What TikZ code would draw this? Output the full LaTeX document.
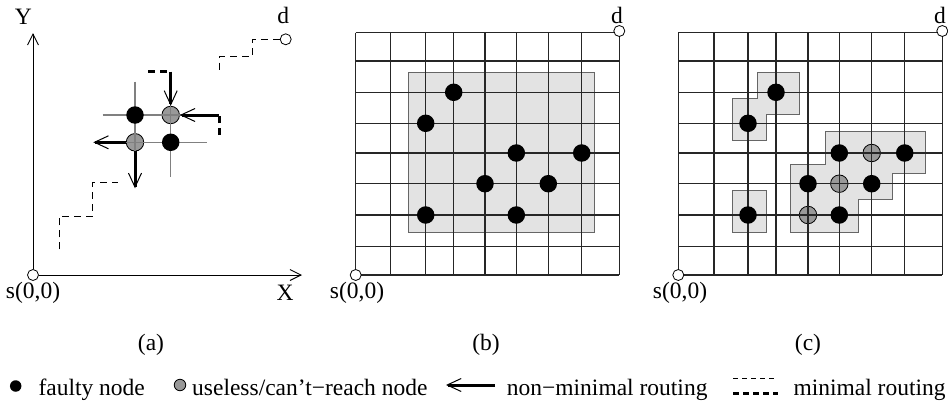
\documentclass[tikz,border=0pt]{standalone}
\usepackage{fontspec}
\setmainfont{Liberation Serif}
\usetikzlibrary{arrows.meta}
\begin{document}
\begin{tikzpicture}[x=1pt,y=-1pt,
  lbl/.style={font=\fontsize{23.5}{27}\selectfont, inner sep=0pt},
  fdot/.style={circle,fill=black,minimum size=17.5pt,inner sep=0pt},
  udot/.style={circle,draw=black,line width=0.8pt,fill=black!40,minimum size=17.5pt,inner sep=0pt},
  term/.style={circle,draw,fill=white,minimum size=11pt,inner sep=0pt,line width=0.8pt},
  gridl/.style={line width=1.2pt, draw=black!85},
  region/.style={fill=black!11, draw=black!60, line width=1pt},
  thinl/.style={line width=1.2pt, draw=black!50},
  axis/.style={line width=0.9pt, -{Straight Barb[length=11pt,width=11pt]}},
  route/.style={line width=3pt, -{Straight Barb[length=14pt,width=13pt,line width=1pt]}},
  mindash/.style={dash pattern=on 7pt off 5pt, line width=0.9pt},
  thickdash/.style={line width=3pt, dash pattern=on 7pt off 5pt},
  ldot/.style={circle,minimum size=11.5pt,inner sep=0pt},
]
\useasboundingbox (0,0) rectangle (948,407);

% ---------------- panel (a)
\node[udot] (ag1) at (170.7,115) {};
\node[udot] (ag2) at (135,142.3) {};
\draw[thinl] (102.7,115) -- (206.7,115);
\draw[thinl] (102.7,142.3) -- (206.7,142.3);
\draw[thinl] (135,81.7) -- (135,176.7);
\draw[thinl] (170.7,81.7) -- (170.7,176.7);
\node[fdot] (af1) at (135,115) {};
\node[fdot] (af2) at (170.7,142.3) {};

\node[term] (as) at (33,275) {};
\node[term] (ad) at (285.7,39.3) {};
\coordinate (ayend) at (33,33);
\coordinate (axend) at (302,275);
\draw[axis] (as) -- (ayend);
\draw[axis] (as) -- (axend);
\node[lbl] (aY) at (23.3,16.7) {Y};
\node[lbl] (aX) at (285,293.3) {X};
\node[lbl] (asl) at (33,293) {s(0,0)};
\node[lbl] (adl) at (283.3,15) {d};

% minimal routing (thin dashed)
\draw[mindash] (ad.west) -- (252.7,39.3) -- (252.7,56) -- (219,56) -- (219,72.7);
\draw[mindash] (59.3,249.3) -- (59.3,216) -- (92.7,216) -- (92.7,182.3) -- (118.3,182.3);

% non-minimal routing
\coordinate (r1) at (148.3,71.7);
\coordinate (r2) at (170.7,71.7);
\draw[thickdash] (r1) -- (r2);
\draw[route] (r2) -- (ag1);
\coordinate (r3) at (219,135);
\coordinate (r4) at (219,115);
\draw[thickdash] (r3) -- (r4);
\draw[route] (r4) -- (ag1);
\coordinate (r5) at (93.3,142.3);
\coordinate (r6) at (135,188.3);
\draw[route] (ag2) -- (r5);
\draw[route] (ag2) -- (r6);

\node[lbl] (la) at (151,345) {(a)};

% ---------------- panel (b)
\draw[region] (408.7,72.3) rectangle (594.3,232);
\foreach \x in {355.7,390.3,425.7,453.7,485,516.3,548.3,581.7,619.3}
  \draw[gridl] (\x,32.7) -- (\x,275);
\foreach \y in {32.7,61,92.3,123.3,153,183.7,215,246.7,275}
  \draw[gridl] (355.7,\y) -- (619.3,\y);
\node[fdot] (bf1) at (453.7,92.3) {};
\node[fdot] (bf2) at (425.7,123.3) {};
\node[fdot] (bf3) at (516.3,153) {};
\node[fdot] (bf4) at (581.7,153) {};
\node[fdot] (bf5) at (485,183.7) {};
\node[fdot] (bf6) at (548.3,183.7) {};
\node[fdot] (bf7) at (425.7,215) {};
\node[fdot] (bf8) at (516.3,215) {};
\node[term] (bs) at (355.7,275) {};
\node[term] (bd) at (619.3,31) {};
\node[lbl] (bsl) at (357,293) {s(0,0)};
\node[lbl] (bdl) at (617,15) {d};
\node[lbl] (lb) at (486,345) {(b)};

% ---------------- panel (c)
\draw[region] (757.3,72.3) -- (799.3,72.3) -- (799.3,114.3) -- (766,114.3) -- (766,140)
  -- (732.3,140) -- (732.3,98.3) -- (757.3,98.3) -- cycle;
\draw[region] (732.3,190.3) rectangle (766,232);
\draw[region] (825.3,131.3) -- (925.3,131.3) -- (925.3,173) -- (892.7,173) -- (892.7,199)
  -- (858.7,199) -- (858.7,232) -- (790.7,232) -- (790.7,164.7) -- (825.3,164.7) -- cycle;
\node[udot] (cg1) at (871.7,153) {};
\node[udot] (cg2) at (839.3,183.7) {};
\node[udot] (cg3) at (808,215) {};
\foreach \x in {678.3,714,748,776,808,839.3,871.7,904.7,942.3}
  \draw[gridl] (\x,32.7) -- (\x,275);
\foreach \y in {32.7,61,92.3,123.3,153,183.7,215,246.7,275}
  \draw[gridl] (678.3,\y) -- (942.3,\y);
\node[fdot] (cf1) at (776,92.3) {};
\node[fdot] (cf2) at (748,123.3) {};
\node[fdot] (cf3) at (839.3,153) {};
\node[fdot] (cf4) at (904.7,153) {};
\node[fdot] (cf5) at (808,183.7) {};
\node[fdot] (cf6) at (871.7,183.7) {};
\node[fdot] (cf7) at (839.3,215) {};
\node[fdot] (cf8) at (748,215) {};
\node[term] (cs) at (678.3,275) {};
\node[term] (cd) at (942.3,31) {};
\node[lbl] (csl) at (680,293) {s(0,0)};
\node[lbl] (cdl) at (940,15) {d};
\node[lbl] (lc) at (808,345) {(c)};

% ---------------- legend
\node[ldot,fill=black] (lg1) at (15.7,386) {};
\node[lbl,anchor=base west] (lt1) at (38.3,395) {faulty node};
\node[ldot,draw=black,line width=0.8pt,fill=black!40] (lg2) at (180,385) {};
\node[lbl,anchor=base west] (lt2) at (192,395) {useless/can’t−reach node};
\coordinate (lar1) at (495,385);
\coordinate (lar2) at (446,385);
\draw[route] (lar1) -- (lar2);
\node[lbl,anchor=base west] (lt3) at (506.7,395) {non−minimal routing};
\coordinate (lm1) at (733.3,378.3);
\coordinate (lm2) at (778,378.3);
\draw[mindash,dash pattern=on 5pt off 4pt] (lm1) -- (lm2);
\coordinate (lm3) at (733.3,393.3);
\coordinate (lm4) at (778,393.3);
\draw[thickdash,dash pattern=on 6pt off 4pt] (lm3) -- (lm4);
\node[lbl,anchor=base west] (lt4) at (793.3,395) {minimal routing};
\end{tikzpicture}
\end{document}
